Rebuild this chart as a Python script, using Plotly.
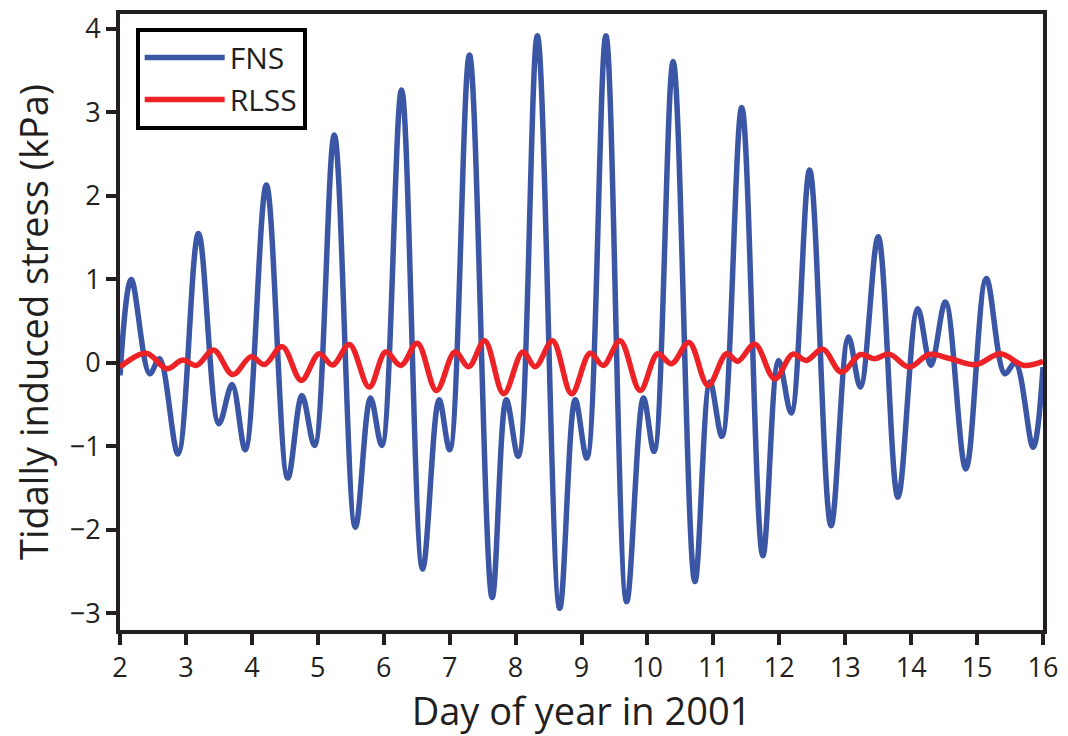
import plotly.graph_objects as go

# FNS: extrema (day of year, kPa)
fns_day = [2.0, 2.17, 2.45, 2.60, 2.88, 3.19, 3.50, 3.70, 3.90, 4.22, 4.545, 4.76, 4.95,
           5.25, 5.57, 5.80, 5.97, 6.27, 6.59, 6.84, 7.00, 7.30, 7.645, 7.86, 8.04,
           8.33, 8.67, 8.905, 9.08, 9.37, 9.685, 9.94, 10.10, 10.39, 10.72, 10.95, 11.13,
           11.43, 11.75, 11.99, 12.18, 12.46, 12.785, 13.05, 13.23, 13.50, 13.80, 14.10,
           14.30, 14.52, 14.83, 15.14, 15.42, 15.58, 15.85, 16.0]
fns_val = [-0.15, 1.00, -0.13, 0.05, -1.09, 1.55, -0.73, -0.26, -1.04, 2.13, -1.38, -0.39, -0.99,
           2.73, -1.97, -0.42, -0.99, 3.27, -2.47, -0.44, -1.04, 3.69, -2.81, -0.44, -1.12,
           3.92, -2.94, -0.44, -1.14, 3.92, -2.86, -0.42, -1.06, 3.61, -2.62, -0.23, -0.88,
           3.06, -2.31, 0.03, -0.60, 2.31, -1.95, 0.31, -0.29, 1.51, -1.61, 0.65,
           -0.03, 0.73, -1.27, 1.01, -0.13, 0.00, -1.01, -0.05]

# RLSS
rlss_day = [2.0, 2.40, 2.71, 2.95, 3.16, 3.42, 3.71, 3.99, 4.19, 4.46, 4.75, 5.02, 5.225,
            5.48, 5.78, 6.03, 6.26, 6.51, 6.80, 7.08, 7.29, 7.53, 7.82, 8.11, 8.30, 8.56,
            8.85, 9.13, 9.33, 9.585, 9.89, 10.155, 10.365, 10.63, 10.92, 11.20, 11.37, 11.63,
            11.93, 12.205, 12.41, 12.66, 12.94, 13.23, 13.44, 13.67, 13.97, 14.27, 14.60,
            14.98, 15.355, 15.71, 16.0]
rlss_val = [-0.05, 0.115, -0.07, 0.035, -0.03, 0.155, -0.14, 0.075, -0.02, 0.195, -0.21, 0.11, -0.025,
            0.22, -0.29, 0.13, -0.03, 0.235, -0.33, 0.13, -0.045, 0.265, -0.37, 0.13, -0.045, 0.265,
            -0.37, 0.115, -0.03, 0.265, -0.33, 0.11, -0.01, 0.245, -0.27, 0.11, 0.02, 0.225,
            -0.19, 0.105, 0.03, 0.165, -0.11, 0.10, 0.05, 0.105, -0.05, 0.10, 0.05,
            -0.02, 0.11, -0.03, 0.02]

x_ticks = list(range(2, 17))
y_ticks = [-3, -2, -1, 0, 1, 2, 3, 4]

INK = "#231f20"
FONT = "Open Sans"

fig = go.Figure()
fig.add_trace(go.Scatter(x=fns_day, y=fns_val, mode="lines", name="FNS",
                         line=dict(color="#3b56a5", width=5.5, shape="spline", smoothing=1.0)))
fig.add_trace(go.Scatter(x=rlss_day, y=rlss_val, mode="lines", name="RLSS",
                         line=dict(color="#ec2227", width=5.5, shape="spline", smoothing=1.0)))

fig.update_layout(
    width=1068, height=736,
    margin=dict(l=120, r=16, t=10, b=106),
    paper_bgcolor="white", plot_bgcolor="white",
    font=dict(family=FONT, color=INK),
    showlegend=True,
    legend=dict(x=0.017, y=0.978, xanchor="left", yanchor="top",
                bordercolor="black", borderwidth=4, bgcolor="white",
                font=dict(size=30, family=FONT, color=INK),
                itemwidth=80, tracegroupgap=0),
    xaxis=dict(range=[2, 16], tickvals=x_ticks, ticktext=[str(v) for v in x_ticks],
               showgrid=False, zeroline=False, showline=True, mirror=True,
               linewidth=4, linecolor=INK, ticks="outside", ticklen=11, tickwidth=4,
               tickcolor=INK, tickfont=dict(size=27, family=FONT, color=INK),
               title=dict(text="Day of year in 2001", font=dict(size=38, family=FONT, color=INK),
                          standoff=12)),
    yaxis=dict(range=[-3.2, 4.18], tickvals=y_ticks,
               showgrid=False, zeroline=False, showline=True, mirror=True,
               linewidth=4, linecolor=INK, ticks="outside", ticklen=10, tickwidth=4,
               tickcolor=INK, tickfont=dict(size=27, family=FONT, color=INK),
               title=dict(text="Tidally induced stress (kPa)",
                          font=dict(size=38, family=FONT, color=INK), standoff=10)),
)

fig.write_html("out.html")
